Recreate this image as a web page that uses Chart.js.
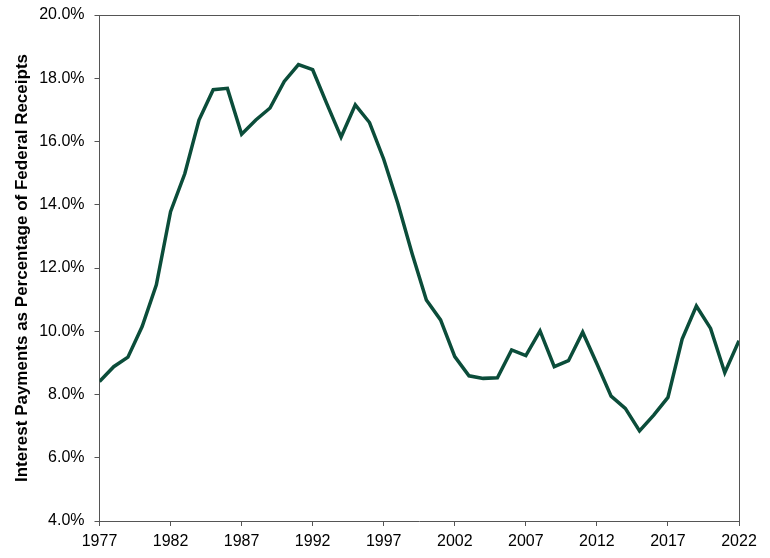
<!DOCTYPE html>
<html>
<head>
<meta charset="utf-8">
<script src="https://cdn.jsdelivr.net/npm/chart.js@4/dist/chart.umd.min.js"></script>
<style>
  html, body { margin: 0; padding: 0; background: #fff; }
  #wrap { width: 770px; height: 558px; }
</style>
</head>
<body>
<div id="wrap"><canvas id="c" width="770" height="558"></canvas></div>
<script>
const years = [1977,1978,1979,1980,1981,1982,1983,1984,1985,1986,1987,1988,1989,1990,1991,1992,1993,1994,1995,1996,1997,1998,1999,2000,2001,2002,2003,2004,2005,2006,2007,2008,2009,2010,2011,2012,2013,2014,2015,2016,2017,2018,2019,2020,2021,2022];
const interestPct = [8.41,8.88,9.18,10.15,11.47,13.78,14.98,16.68,17.64,17.68,16.23,16.68,17.06,17.90,18.43,18.27,17.19,16.14,17.16,16.60,15.44,14.03,12.45,10.99,10.36,9.20,8.59,8.51,8.53,9.41,9.23,10.01,8.88,9.07,9.97,8.97,7.95,7.56,6.85,7.35,7.91,9.75,10.80,10.09,8.69,9.70];
const yTitle = 'Interest Payments as Percentage of Federal Receipts';

const boxPlugin = {
  id: 'box',
  afterDraw(chart) {
    const a = chart.chartArea, ctx = chart.ctx;
    ctx.save();
    ctx.strokeStyle = '#555555';
    ctx.lineWidth = 1;
    ctx.beginPath();
    ctx.moveTo(a.left, a.top + 0.5);
    ctx.lineTo(a.right + 0.5, a.top + 0.5);
    ctx.lineTo(a.right + 0.5, a.bottom);
    ctx.stroke();
    ctx.restore();
  }
};

const font = { family: '"Liberation Sans", Arial, sans-serif', size: 16 };

new Chart(document.getElementById('c'), {
  type: 'line',
  data: {
    datasets: [{
      data: years.map((y, i) => ({ x: y, y: interestPct[i] })),
      borderColor: '#0b4d3a',
      borderWidth: 3.5,
      pointRadius: 0,
      tension: 0,
      fill: false
    }]
  },
  options: {
    responsive: false,
    animation: false,
    layout: { padding: { top: 15, right: 31, left: 0, bottom: 0 } },
    plugins: { legend: { display: false }, tooltip: { enabled: false } },
    scales: {
      x: {
        type: 'linear',
        min: 1977, max: 2022,
        border: { display: true, color: '#555555', width: 1 },
        grid: { display: true, drawOnChartArea: false, drawTicks: true, tickLength: 5, tickColor: '#555555' },
        ticks: { stepSize: 5, color: '#000', font: font, padding: 6, maxRotation: 0, autoSkip: false,
                 callback: v => String(v) },
        afterFit(s) { s.height = 37; s.paddingLeft = 0; s.paddingRight = 0; }
      },
      y: {
        min: 4, max: 20,
        border: { display: true, color: '#555555', width: 1 },
        grid: { display: true, drawOnChartArea: false, drawTicks: true, tickLength: 5, tickColor: '#555555' },
        ticks: { stepSize: 2, color: '#000', font: font, padding: 10,
                 callback: v => v.toFixed(1) + '%' },
        title: { display: true, text: yTitle, color: '#000',
                 font: { family: '"Liberation Sans", Arial, sans-serif', size: 17, weight: 'bold' },
                 padding: { top: 12.5, bottom: 0 } },
        afterFit(s) { s.width = 99.5; s.paddingTop = 0; s.paddingBottom = 0; }
      }
    }
  },
  plugins: [boxPlugin]
});
</script>
</body>
</html>
